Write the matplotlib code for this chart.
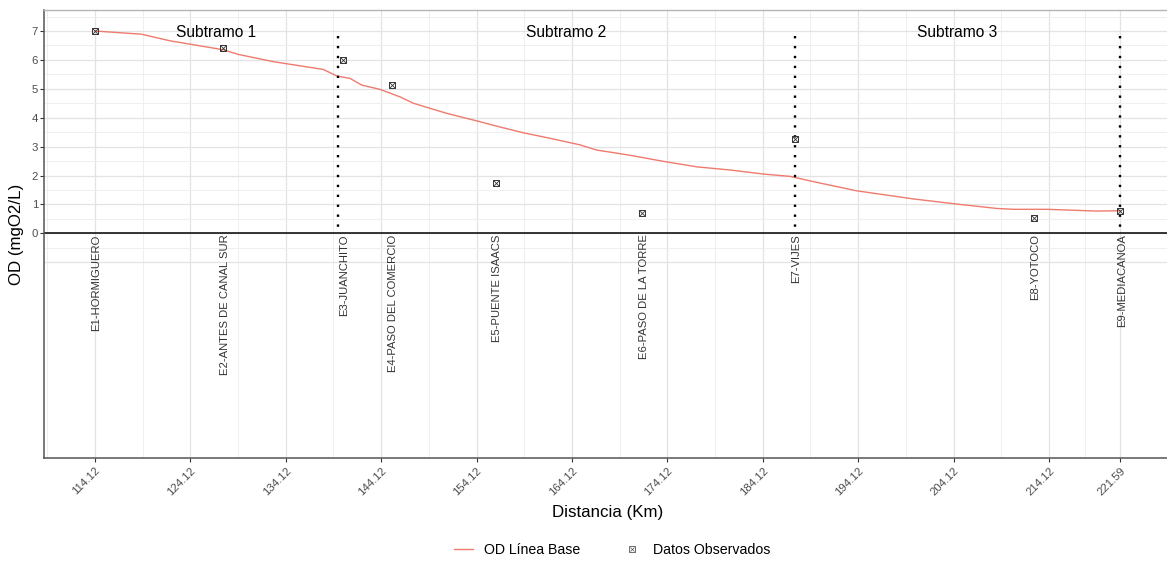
import matplotlib
matplotlib.use("Agg")
import matplotlib.pyplot as plt
from matplotlib.lines import Line2D
from matplotlib.legend_handler import HandlerTuple
import numpy as np

plt.rcParams['font.family'] = ['Liberation Sans', 'DejaVu Sans']

# ---- data ----
line_km = [114.12, 119.0, 122.0, 127.6, 129.15, 132.8, 138.06, 139.5, 140.86, 142.08,
           144.0, 146.1, 147.5, 151.0, 154.5, 156.2, 159.0, 161.5, 164.97, 166.7,
           168.5, 170.2, 173.7, 177.2, 180.7, 184.2, 186.98, 189.4, 193.97, 199.9,
           204.5, 208.65, 210.4, 213.9, 219.1, 221.59]
line_od = [7.00, 6.89, 6.66, 6.35, 6.19, 5.94, 5.67, 5.44, 5.36, 5.13,
           4.98, 4.72, 4.50, 4.15, 3.86, 3.71, 3.48, 3.31, 3.06, 2.88,
           2.79, 2.70, 2.49, 2.30, 2.19, 2.05, 1.97, 1.79, 1.47, 1.19,
           1.01, 0.86, 0.83, 0.83, 0.77, 0.78]

station_names = ["E1-HORMIGUERO", "E2-ANTES DE CANAL SUR", "E3-JUANCHITO",
                 "E4-PASO DEL COMERCIO", "E5-PUENTE ISAACS", "E6-PASO DE LA TORRE",
                 "E7-VIJES", "E8-YOTOCO", "E9-MEDIACANOA"]
station_km = [114.12, 127.58, 140.1, 145.26, 156.16, 171.5, 187.5, 212.55, 221.59]
obs_od = [7.00, 6.42, 5.99, 5.13, 1.73, 0.69, 3.25, 0.52, 0.78]

boundary_km = [139.57, 187.5, 221.59]
boundary_top = 6.82
subtramo_labels = ["Subtramo 1", "Subtramo 2", "Subtramo 3"]
subtramo_km = [126.8, 163.5, 204.5]
subtramo_y = 6.96

xtick_vals = [114.12, 124.12, 134.12, 144.12, 154.12, 164.12, 174.12, 184.12,
              194.12, 204.12, 214.12, 221.59]
xtick_labels = ["114.12", "124.12", "134.12", "144.12", "154.12", "164.12", "174.12",
                "184.12", "194.12", "204.12", "214.12", "221.59"]
ytick_vals = [0, 1, 2, 3, 4, 5, 6, 7]

# ---- figure ----
W, H = 1167, 565
fig = plt.figure(figsize=(W / 100, H / 100), dpi=100)
ax = fig.add_axes([44.3 / W, 1 - 457.7 / H, 1 - 44.3 / W, (457.7 - 10) / H])
ax.set_xlim(108.81, 226.49)
ax.set_ylim(-7.765, 7.727)

# grid
major_grid = '#e3e3e3'
minor_grid = '#efefef'
xt = np.array(xtick_vals)
minor_x = list((xt[:-1] + xt[1:]) / 2) + [xt[0] - 5]
for v in minor_x:
    ax.axvline(v, color=minor_grid, lw=0.7, zorder=0)
for v in xtick_vals:
    ax.axvline(v, color=major_grid, lw=0.9, zorder=0)
for v in np.arange(-0.5, 7.6, 1.0):
    ax.axhline(v, color=minor_grid, lw=0.7, zorder=0)
for v in [-1] + ytick_vals:
    ax.axhline(v, color=major_grid, lw=0.9, zorder=0)

# zero line
ax.axhline(0, color='black', lw=1.1, zorder=2)

# model line
ax.plot(line_km, line_od, color='#EF7A6E', lw=1.0, zorder=3)

# observed markers (square with cross)
ax.plot(station_km, obs_od, ls='none', marker='s', ms=5.0, mfc='none', mec='#333333',
        mew=0.7, zorder=4)
ax.plot(station_km, obs_od, ls='none', marker='x', ms=4.0, mec='#333333',
        mew=0.6, zorder=4)

# boundaries (drawn top-down so the first dot sits at the top)
for b in boundary_km:
    ax.plot([b, b], [boundary_top, 0], color='black', lw=1.7,
            linestyle=(0, (1, 3.2)), zorder=3)

# subtramo labels
for lab, xv in zip(subtramo_labels, subtramo_km):
    ax.text(xv, subtramo_y, lab, ha='center', va='center', fontsize=11.2, color='black')

# station labels
for name, xv in zip(station_names, station_km):
    ax.text(xv + 0.15, -0.04, name, rotation=90, ha='center', va='top', fontsize=8.1,
            color='#333333', zorder=3)

# ticks
ax.set_xticks(xtick_vals)
ax.set_xticklabels(xtick_labels)
ax.set_yticks(ytick_vals)
ax.set_yticklabels([str(v) for v in ytick_vals])
ax.tick_params(axis='both', colors='#333333', length=3, width=0.8, labelsize=8.2,
               labelcolor='#4d4d4d')
ax.tick_params(axis='x', pad=2.5)
ax.tick_params(axis='y', pad=1.5)
for lab in ax.get_xticklabels():
    lab.set_rotation(45)
    lab.set_ha('right')
    lab.set_va('top')
    lab.set_rotation_mode('anchor')

# spines
for s in ['left', 'bottom']:
    ax.spines[s].set_color('#555555')
    ax.spines[s].set_linewidth(1.1)
ax.spines['top'].set_color('#b5b5b5')
ax.spines['top'].set_linewidth(1.0)
ax.spines['right'].set_visible(False)

# axis titles
fig.text(17 / W, 1 - 234 / H, 'OD (mgO2/L)', rotation=90, ha='center', va='center',
         fontsize=12.2, color='black')
fig.text(608 / W, 1 - 512 / H, 'Distancia (Km)', ha='center', va='center',
         fontsize=12.2, color='black')

# legend
h_line = Line2D([], [], color='#EF7A6E', lw=1.0)
h_sq = Line2D([], [], ls='none', marker='s', ms=4.2, mfc='none', mec='#555555', mew=0.6)
h_x = Line2D([], [], ls='none', marker='x', ms=3.2, mec='#555555', mew=0.5)
fig.legend([h_line, (h_sq, h_x)], ['OD Línea Base', 'Datos Observados'],
           handler_map={tuple: HandlerTuple(ndivide=1, pad=0)},
           loc='center', bbox_to_anchor=(612 / W, 1 - 550 / H), ncol=2,
           frameon=False, fontsize=10.2, handlelength=1.37, handletextpad=0.8,
           columnspacing=2.95, borderpad=0, borderaxespad=0)

fig.savefig('out.png', dpi=100)
